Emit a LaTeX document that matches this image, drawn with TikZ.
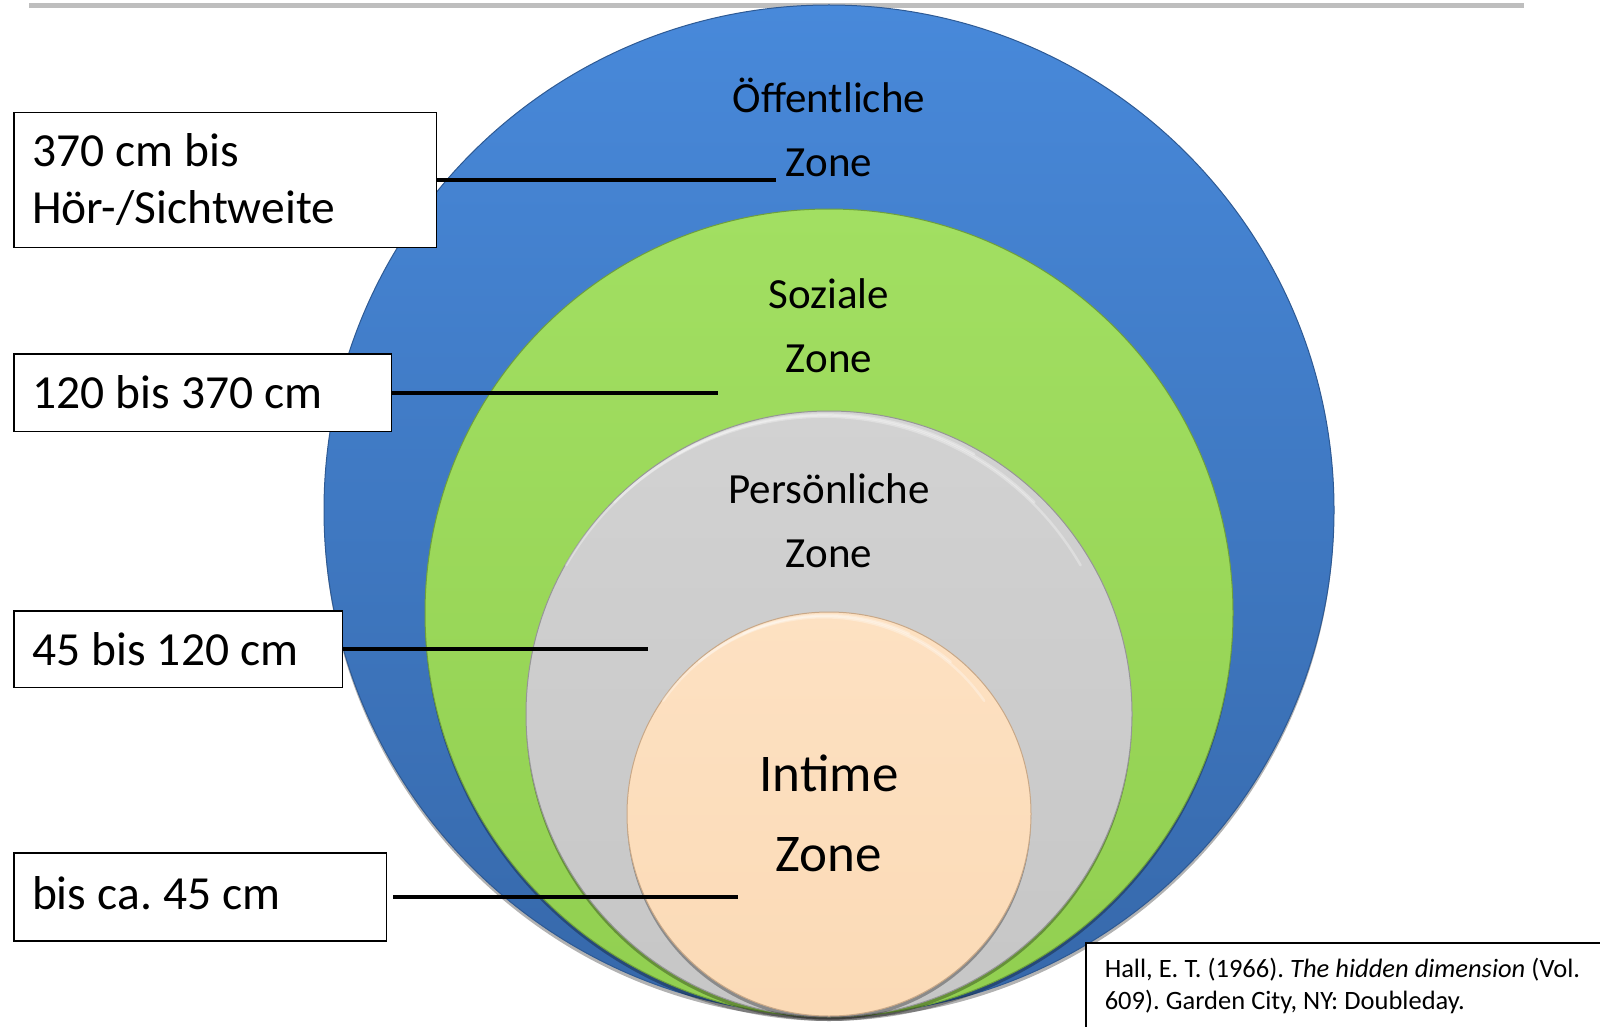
\documentclass[tikz,border=0pt]{standalone}
\usepackage{fontspec}
\setmainfont{Carlito}
\usetikzlibrary{positioning,shadows}
\frenchspacing

\definecolor{blauOben}{RGB}{72,137,218}
\definecolor{blauUnten}{RGB}{54,104,170}
\definecolor{blauRand}{RGB}{46,90,148}
\definecolor{gruenOben}{RGB}{162,223,98}
\definecolor{gruenUnten}{RGB}{145,207,80}
\definecolor{gruenRand}{RGB}{110,159,60}
\definecolor{grauOben}{RGB}{210,210,210}
\definecolor{grauUnten}{RGB}{198,198,198}
\definecolor{grauRand}{RGB}{150,150,150}
\definecolor{hautOben}{RGB}{253,225,194}
\definecolor{hautUnten}{RGB}{251,218,182}
\definecolor{hautRand}{RGB}{200,168,136}
\definecolor{linieGrau}{RGB}{190,190,190}

\tikzset{
  zone/.style n args={3}{circle, draw=#3, line width=1pt, top color=#1, bottom color=#2,
    drop shadow={shadow xshift=0pt, shadow yshift=-4pt, opacity=0.3, fill=black}},
  glanz/.style={white, line width=2.5pt, opacity=0.3, line cap=round},
  zonentext/.style={align=center, anchor=base, font=\fontsize{43}{64}\selectfont},
  abstand/.style={draw=black, line width=1.5pt, fill=white, rectangle, anchor=north west,
    align=left, inner xsep=18pt, inner ysep=0pt, font=\fontsize{47.5}{57}\selectfont,
    execute at begin node={\spaceskip=0.235em\relax}},
  linie/.style={line width=4pt}
}

\begin{document}
\begin{tikzpicture}[x=1pt,y=-1pt]
  \useasboundingbox (0,0) rectangle (1600,1027);
  \clip (0,0) rectangle (1600,1027);
  \draw[linieGrau, line width=4.5pt] (29,5.5) -- (1524,5.5);

  % Zonen
  \node[zone={blauOben}{blauUnten}{blauRand}, minimum size=1010pt] (oeff) at (829,510) {};
  \node[zone={gruenOben}{gruenUnten}{gruenRand}, minimum size=808pt] (sozial) at (829,613) {};
  \node[zone={grauOben}{grauUnten}{grauRand}, minimum size=606pt] (pers) at (829,714) {};
  \foreach \w in {60,45,30}
    \draw[glanz] ([yshift=-3pt]pers.90+\w) arc[start angle=270-\w, end angle=270+\w, radius=297];
  \node[zone={hautOben}{hautUnten}{hautRand}, minimum size=404pt] (intim) at (829,814) {};
  \foreach \w in {55,40,25}
    \draw[glanz] ([yshift=-3pt]intim.90+\w) arc[start angle=270-\w, end angle=270+\w, radius=196];

  \node[zonentext] (toeff) at (829,177) {Öffentliche\\Zone};
  \node[zonentext] (tsozial) at (829,372) {Soziale\\Zone};
  \node[zonentext] (tpers) at (829,567) {Persönliche\\Zone};
  \node[zonentext, font=\fontsize{53}{80}\selectfont] (tintim) at (829,871) {Intime\\Zone};

  % Abstaende
  \node[abstand, text width=386.4pt, minimum height=135pt] (b1) at (13.3,111.7) {370 cm bis\\Hör-/Sichtweite};
  \node[abstand, text width=341.5pt, minimum height=77.6pt] (b2) at (13.3,353) {120 bis 370 cm};
  \node[abstand, text width=292.5pt, minimum height=76.7pt] (b3) at (13.3,610) {45 bis 120 cm};
  \node[abstand, text width=336.4pt, minimum height=88pt, text depth=8pt] (b4) at (13.3,852) {bis ca. 45 cm};

  \coordinate (e1) at (775.5,179);
  \coordinate (e2) at (718.4,391);
  \coordinate (e3) at (648,648);
  \coordinate (e4) at (738,896);
  \draw[linie] (b1.east) -- (b1.east -| e1);
  \draw[linie] (b2.east) -- (b2.east -| e2);
  \draw[linie] (b3.east) -- (b3.east -| e3);
  \draw[linie] ([xshift=6pt]b4.east) -- (b4.east -| e4);

  % Quelle
  \node[draw=black, line width=1.5pt, fill=white, anchor=north west, align=left,
    text width=560pt, inner xsep=19pt, inner ysep=15pt, text depth=70pt,
    font=\fontsize{26.5}{32}\selectfont, execute at begin node={\spaceskip=0.23em\relax}] (quelle) at (1085,942)
    {Hall, E. T. (1966). \textit{The hidden dimension} (Vol.\\609). Garden City, NY: Doubleday.};
\end{tikzpicture}
\end{document}
